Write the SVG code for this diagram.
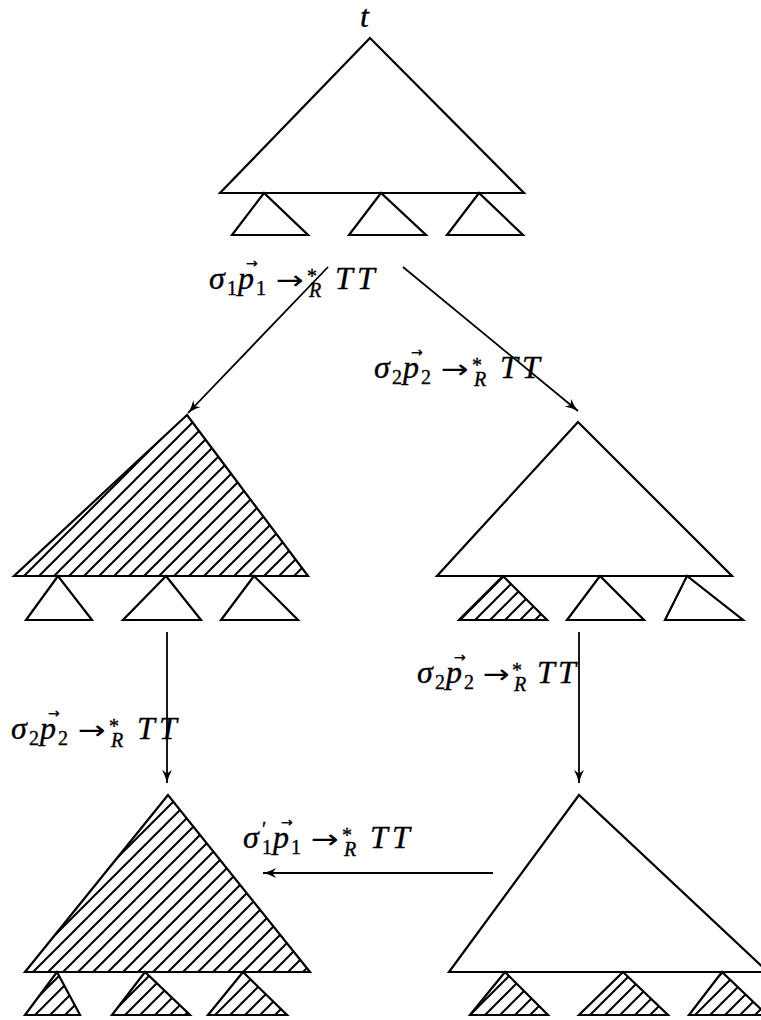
<svg xmlns="http://www.w3.org/2000/svg" width="761" height="1020" viewBox="0 0 761 1020">
<style>
.tri{fill:#fff;stroke:#000;stroke-width:2.2;stroke-linejoin:miter}
.hat{fill:url(#hatch);stroke:#000;stroke-width:2.2}
.con{fill:none;stroke:#000;stroke-width:1.8;marker-end:url(#arr)}
text{font-family:"Liberation Serif","DejaVu Serif",serif;fill:#000;stroke:#000;stroke-width:0.35}
.m{font-style:italic;font-size:32px}
.s{font-size:20px}
.si{font-style:italic;font-size:20px}
.a{font-family:"DejaVu Sans",sans-serif;font-size:26px;stroke-width:0}
.v{font-family:"DejaVu Sans",sans-serif;font-size:14px;stroke-width:0.3}
</style>
<defs>
<pattern id="hatch" patternUnits="userSpaceOnUse" width="15" height="15">
<rect width="15" height="15" fill="#fff"/>
<path d="M-2,2 L2,-2 M0,15 L15,0 M13,17 L17,13" stroke="#000" stroke-width="2"/>
</pattern>
<marker id="arr" markerUnits="userSpaceOnUse" markerWidth="16" markerHeight="12" refX="13" refY="6" orient="auto">
<path d="M0,1 Q6,4.5 13,6 Q6,7.5 0,11 L3.5,6 Z" fill="#000"/>
</marker>
</defs>

<g id="connectors">
<line id="c1" class="con" x1="328" y1="267" x2="188" y2="413"/>
<line id="c2" class="con" x1="403" y1="267" x2="578" y2="411"/>
<line id="c3" class="con" x1="167" y1="632" x2="167" y2="783"/>
<line id="c4" class="con" x1="579" y1="632" x2="579" y2="783"/>
<line id="c5" class="con" x1="493" y1="873" x2="263" y2="873"/>
</g>

<g id="tree-t">
<polygon class="tri" points="370,38 220,193 524,193"/>
<polygon class="tri" points="264,193 232,235 308,235"/>
<polygon class="tri" points="381,193 349,235 426,235"/>
<polygon class="tri" points="479,193 447,235 523,235"/>
<text class="m" x="360" y="27">t</text>
</g>

<g id="tree-mid-left">
<polygon class="hat" points="187,415 14,576 308,576"/>
<polygon class="tri" points="58,576 26,620 92,620"/>
<polygon class="tri" points="166,576 123,620 201,620"/>
<polygon class="tri" points="254,576 221,620 298,620"/>
</g>

<g id="tree-mid-right">
<polygon class="tri" points="578,422 437,576 732,576"/>
<polygon class="hat" points="503,576 459,620 547,620"/>
<polygon class="tri" points="600,576 567,620 644,620"/>
<polygon class="tri" points="687,576 665,620 743,620"/>
</g>

<g id="tree-bot-left">
<polygon class="hat" points="168,795 25,972 310,972"/>
<polygon class="hat" points="57,972 25,1015 80,1015"/>
<polygon class="hat" points="145,972 112,1015 190,1015"/>
<polygon class="hat" points="243,972 208,1015 287,1015"/>
</g>

<g id="tree-bot-right">
<polygon class="tri" points="579,795 449,972 768,972"/>
<polygon class="hat" points="505,972 470,1015 548,1015"/>
<polygon class="hat" points="623,972 579,1015 668,1015"/>
<polygon class="hat" points="722,972 689,1015 767,1015"/>
</g>

<g id="labels">
<text transform="translate(209,289)"><tspan class="m" x="0" y="0">σ</tspan><tspan class="s" x="18" y="6">1</tspan><tspan class="m" x="29" y="0">p</tspan><tspan class="v" x="37" y="-21">→</tspan><tspan class="s" x="47" y="6">1</tspan><tspan class="a" x="67" y="0" textLength="28" lengthAdjust="spacingAndGlyphs">→</tspan><tspan class="s" x="98" y="-6">*</tspan><tspan class="si" x="100" y="8">R</tspan><tspan class="m" x="126" y="0">T</tspan><tspan class="m" x="148" y="0">T</tspan></text>
<text transform="translate(374,378)"><tspan class="m" x="0" y="0">σ</tspan><tspan class="s" x="18" y="6">2</tspan><tspan class="m" x="29" y="0">p</tspan><tspan class="v" x="37" y="-21">→</tspan><tspan class="s" x="47" y="6">2</tspan><tspan class="a" x="67" y="0" textLength="28" lengthAdjust="spacingAndGlyphs">→</tspan><tspan class="s" x="98" y="-6">*</tspan><tspan class="si" x="100" y="8">R</tspan><tspan class="m" x="126" y="0">T</tspan><tspan class="m" x="148" y="0">T</tspan></text>
<text transform="translate(11,739)"><tspan class="m" x="0" y="0">σ</tspan><tspan class="s" x="18" y="6">2</tspan><tspan class="m" x="29" y="0">p</tspan><tspan class="v" x="37" y="-21">→</tspan><tspan class="s" x="47" y="6">2</tspan><tspan class="a" x="67" y="0" textLength="28" lengthAdjust="spacingAndGlyphs">→</tspan><tspan class="s" x="98" y="-6">*</tspan><tspan class="si" x="100" y="8">R</tspan><tspan class="m" x="126" y="0">T</tspan><tspan class="m" x="148" y="0">T</tspan></text>
<text transform="translate(417,683)"><tspan class="m" x="0" y="0">σ</tspan><tspan class="s" x="18" y="6">2</tspan><tspan class="m" x="29" y="0">p</tspan><tspan class="v" x="37" y="-21">→</tspan><tspan class="s" x="47" y="6">2</tspan><tspan class="a" x="66" y="0" textLength="27" lengthAdjust="spacingAndGlyphs">→</tspan><tspan class="s" x="95" y="-6">*</tspan><tspan class="si" x="97" y="8">R</tspan><tspan class="m" x="120" y="0">T</tspan><tspan class="m" x="141" y="0">T</tspan></text>
<text transform="translate(243,848)"><tspan class="m" x="0" y="0">σ</tspan><tspan class="s" x="19" y="-12">′</tspan><tspan class="s" x="19" y="6">1</tspan><tspan class="m" x="30" y="0">p</tspan><tspan class="v" x="38" y="-21">→</tspan><tspan class="s" x="48" y="6">1</tspan><tspan class="a" x="68" y="0" textLength="28" lengthAdjust="spacingAndGlyphs">→</tspan><tspan class="s" x="99" y="-6">*</tspan><tspan class="si" x="101" y="8">R</tspan><tspan class="m" x="127" y="0">T</tspan><tspan class="m" x="149" y="0">T</tspan></text>
</g>
</svg>
